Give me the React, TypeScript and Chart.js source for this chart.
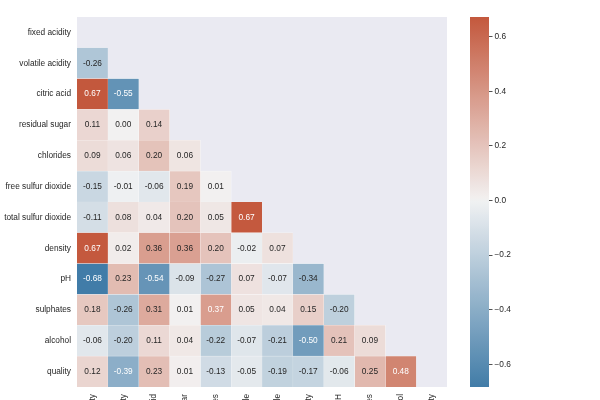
import React, { useEffect, useRef } from "react";
import { Chart, registerables } from "chart.js";
Chart.register(...registerables);

// ---------- data ----------
const features = [
  "fixed acidity",
  "volatile acidity",
  "citric acid",
  "residual sugar",
  "chlorides",
  "free sulfur dioxide",
  "total sulfur dioxide",
  "density",
  "pH",
  "sulphates",
  "alcohol",
  "quality",
];
const rowFixed: number[] = [];
const rowVolatile = [-0.256];
const rowCitric = [0.672, -0.552];
const rowSugar = [0.114, 0.002, 0.144];
const rowChlorides = [0.094, 0.061, 0.204, 0.056];
const rowFreeSO2 = [-0.154, -0.011, -0.061, 0.187, 0.006];
const rowTotalSO2 = [-0.113, 0.076, 0.036, 0.203, 0.047, 0.668];
const rowDensity = [0.668, 0.022, 0.3649, 0.3553, 0.201, -0.022, 0.071];
const rowPH = [-0.683, 0.234, -0.542, -0.086, -0.266, 0.07, -0.066, -0.342];
const rowSulphates = [0.183, -0.261, 0.313, 0.006, 0.371, 0.052, 0.043, 0.149, -0.197];
const rowAlcohol = [-0.062, -0.202, 0.11, 0.042, -0.221, -0.069, -0.206, -0.496, 0.206, 0.094];
const rowQuality = [0.124, -0.391, 0.226, 0.014, -0.129, -0.051, -0.186, -0.174, -0.058, 0.251, 0.476];
const lowerRows = [
  rowFixed, rowVolatile, rowCitric, rowSugar, rowChlorides, rowFreeSO2,
  rowTotalSO2, rowDensity, rowPH, rowSulphates, rowAlcohol, rowQuality,
];
const colorbarTicks = [-0.6, -0.4, -0.2, 0, 0.2, 0.4, 0.6];
const hueNeg = 240;
const huePos = 20;

// ---------- colour map (seaborn diverging_palette, husl) ----------
const M = [
  [3.240969941904521, -1.537383177570093, -0.498610760293],
  [-0.96924363628087, 1.87596750150772, 0.041555057407175],
  [0.055630079696993, -0.20397695888897, 1.056971514242878],
];
const refU = 0.19783000664283;
const refV = 0.46831999493879;
const kappa = 903.2962962;
const epsilon = 0.0088564516;
function maxChroma(L: number, H: number) {
  const sub1 = Math.pow(L + 16, 3) / 1560896;
  const sub2 = sub1 > epsilon ? sub1 : L / kappa;
  const hrad = (H / 180) * Math.PI;
  let min = Infinity;
  for (const [m1, m2, m3] of M) {
    for (const t of [0, 1]) {
      const top1 = (284517 * m1 - 94839 * m3) * sub2;
      const top2 = (838422 * m3 + 769860 * m2 + 731718 * m1) * L * sub2 - 769860 * t * L;
      const bottom = (632260 * m3 - 126452 * m2) * sub2 + 126452 * t;
      const slope = top1 / bottom;
      const intercept = top2 / bottom;
      const len = intercept / (Math.sin(hrad) - slope * Math.cos(hrad));
      if (len >= 0) min = Math.min(min, len);
    }
  }
  return min;
}
function husl(H: number, S: number, L: number): number[] {
  if (L > 99.9999) return [1, 1, 1];
  const C = (maxChroma(L, H) / 100) * S;
  const hrad = (H / 180) * Math.PI;
  const U = Math.cos(hrad) * C;
  const V = Math.sin(hrad) * C;
  const varU = U / (13 * L) + refU;
  const varV = V / (13 * L) + refV;
  const Y = L <= 8 ? L / kappa : Math.pow((L + 16) / 116, 3);
  const X = -(9 * Y * varU) / ((varU - 4) * varV - varU * varV);
  const Z = (9 * Y - 15 * varV * Y - varV * X) / (3 * varV);
  return M.map(([a, b, c]) => {
    const lin = a * X + b * Y + c * Z;
    const v = lin <= 0.0031308 ? 12.92 * lin : 1.055 * Math.pow(lin, 1 / 2.4) - 0.055;
    return Math.min(1, Math.max(0, v));
  });
}
const lerp3 = (a: number[], b: number[], f: number) => a.map((x, k) => x + (b[k] - x) * f);
const negEnd = husl(hueNeg, 75, 50);
const negGray = husl(hueNeg, 11.25, 95);
const posEnd = husl(huePos, 75, 50);
const posGray = husl(huePos, 11.25, 95);
const stops: number[][] = [];
for (let k = 0; k < 128; k++) stops.push(lerp3(negEnd, negGray, k / 127));
stops.push([0.95, 0.95, 0.95]);
for (let k = 0; k < 128; k++) stops.push(lerp3(posGray, posEnd, k / 127));

const allValues = lowerRows.flat();
const vmin = Math.min(...allValues);
const vmax = Math.max(...allValues);
const vrange = Math.max(Math.abs(vmin), Math.abs(vmax));

function rgbAt(v: number) {
  let t = (v + vrange) / (2 * vrange);
  t = Math.min(1, Math.max(0, t));
  const p = t * 256;
  const i = Math.min(255, Math.floor(p));
  return lerp3(stops[i], stops[i + 1], p - i);
}
function cellColor(v: number) {
  const c = rgbAt(v).map((x) => Math.round(x * 255));
  return `rgb(${c[0]},${c[1]},${c[2]})`;
}
function textColor(v: number) {
  const rgb = rgbAt(v).map((x) => (x <= 0.03928 ? x / 12.92 : Math.pow((x + 0.055) / 1.055, 2.4)));
  const lum = 0.2126 * rgb[0] + 0.7152 * rgb[1] + 0.0722 * rgb[2];
  return lum > 0.408 ? "#262626" : "#ffffff";
}

const FONT = "'Liberation Sans', Arial, sans-serif";
const FSIZE = 8.3;
const INK = "#262626";

export default function App() {
  const heatRef = useRef<HTMLCanvasElement>(null);
  const cbRef = useRef<HTMLCanvasElement>(null);

  useEffect(() => {
    const n = features.length;
    const datasets = features.slice(0, n - 1).map((_, j) => ({
      label: features[j],
      data: features.map((_, i) => (i > j ? [j, j + 1] : null)),
      backgroundColor: features.map((_, i) => (i > j ? cellColor(lowerRows[i][j]) : "rgba(0,0,0,0)")),
      borderColor: "#ffffff",
      borderWidth: 0.3,
      borderSkipped: false,
      barPercentage: 1,
      categoryPercentage: 1,
      grouped: false,
    }));

    const bgPlugin = {
      id: "bg",
      beforeDatasetsDraw(chart: any) {
        const { ctx, chartArea: a } = chart;
        ctx.save();
        ctx.fillStyle = "#eaeaf2";
        ctx.fillRect(a.left, a.top, a.width, a.height);
        ctx.restore();
      },
    };
    const annotPlugin = {
      id: "annot",
      afterDatasetsDraw(chart: any) {
        const ctx = chart.ctx;
        ctx.save();
        ctx.font = `${FSIZE}px ${FONT}`;
        ctx.textAlign = "center";
        ctx.textBaseline = "middle";
        chart.data.datasets.forEach((_: any, j: number) => {
          const meta = chart.getDatasetMeta(j);
          meta.data.forEach((el: any, i: number) => {
            if (i <= j) return;
            const v = lowerRows[i][j];
            const { x, y } = el.getCenterPoint();
            ctx.fillStyle = textColor(v);
            ctx.fillText(v.toFixed(2), x, y);
          });
        });
        ctx.restore();
      },
    };

    const heat = new Chart(heatRef.current!, {
      type: "bar",
      data: { labels: features, datasets: datasets as any },
      options: {
        animation: false,
        responsive: false,
        indexAxis: "y",
        layout: { padding: { top: 17, right: 153, left: 0, bottom: 0 } },
        plugins: { legend: { display: false }, tooltip: { enabled: false } },
        scales: {
          y: {
            type: "category",
            grid: { display: false, drawTicks: false },
            border: { display: false },
            ticks: { color: INK, font: { family: FONT, size: FSIZE }, padding: 6, autoSkip: false },
            afterFit: (s: any) => {
              s.width = 77;
            },
          },
          x: {
            type: "linear",
            min: 0,
            max: n,
            grid: { display: false, drawTicks: false },
            border: { display: false },
            ticks: {
              color: INK,
              font: { family: FONT, size: FSIZE },
              padding: 7,
              autoSkip: false,
              minRotation: 90,
              maxRotation: 90,
              callback: (v: any) => features[Math.floor(Number(v))],
            },
            afterBuildTicks: (s: any) => {
              s.ticks = features.map((_, j) => ({ value: j + 0.5 }));
            },
            afterFit: (s: any) => {
              s.height = 13;
            },
          },
        },
      } as any,
      plugins: [bgPlugin, annotPlugin],
    });

    const cb = new Chart(cbRef.current!, {
      type: "bar",
      data: {
        labels: ["cb"],
        datasets: [
          {
            data: [[vmin, vmax]] as any,
            backgroundColor: (c: any) => {
              const ch = c.chart;
              if (!ch.chartArea) return "rgba(0,0,0,0)";
              const ys = ch.scales.y;
              const g = ch.ctx.createLinearGradient(0, ys.getPixelForValue(vmin), 0, ys.getPixelForValue(vmax));
              const steps = 80;
              for (let k = 0; k <= steps; k++) {
                const v = vmin + ((vmax - vmin) * k) / steps;
                g.addColorStop(k / steps, cellColor(v));
              }
              return g;
            },
            borderWidth: 0,
            barPercentage: 1,
            categoryPercentage: 1,
          },
        ],
      },
      options: {
        animation: false,
        responsive: false,
        layout: { padding: { top: 17, right: 0, left: 470, bottom: 13 } },
        plugins: { legend: { display: false }, tooltip: { enabled: false } },
        scales: {
          x: { display: false },
          y: {
            position: "right",
            min: vmin,
            max: vmax,
            grid: { drawOnChartArea: false, drawTicks: true, tickLength: 3.5, color: INK, lineWidth: 0.8 },
            border: { display: false },
            ticks: {
              color: INK,
              font: { family: FONT, size: FSIZE },
              padding: 2,
              callback: (v: any) => Number(v).toFixed(1).replace("-", "\u2212"),
            },
            afterBuildTicks: (s: any) => {
              s.ticks = colorbarTicks.map((value) => ({ value }));
            },
            afterFit: (s: any) => {
              s.width = 111;
            },
          },
        },
      } as any,
    });

    return () => {
      heat.destroy();
      cb.destroy();
    };
  }, []);

  return (
    <div style={{ position: "fixed", left: 0, top: 0, width: 600, height: 400, overflow: "hidden", background: "#ffffff" }}>
      <canvas ref={heatRef} width={600} height={400} style={{ position: "absolute", left: 0, top: 0 }} />
      <canvas ref={cbRef} width={600} height={400} style={{ position: "absolute", left: 0, top: 0 }} />
    </div>
  );
}
